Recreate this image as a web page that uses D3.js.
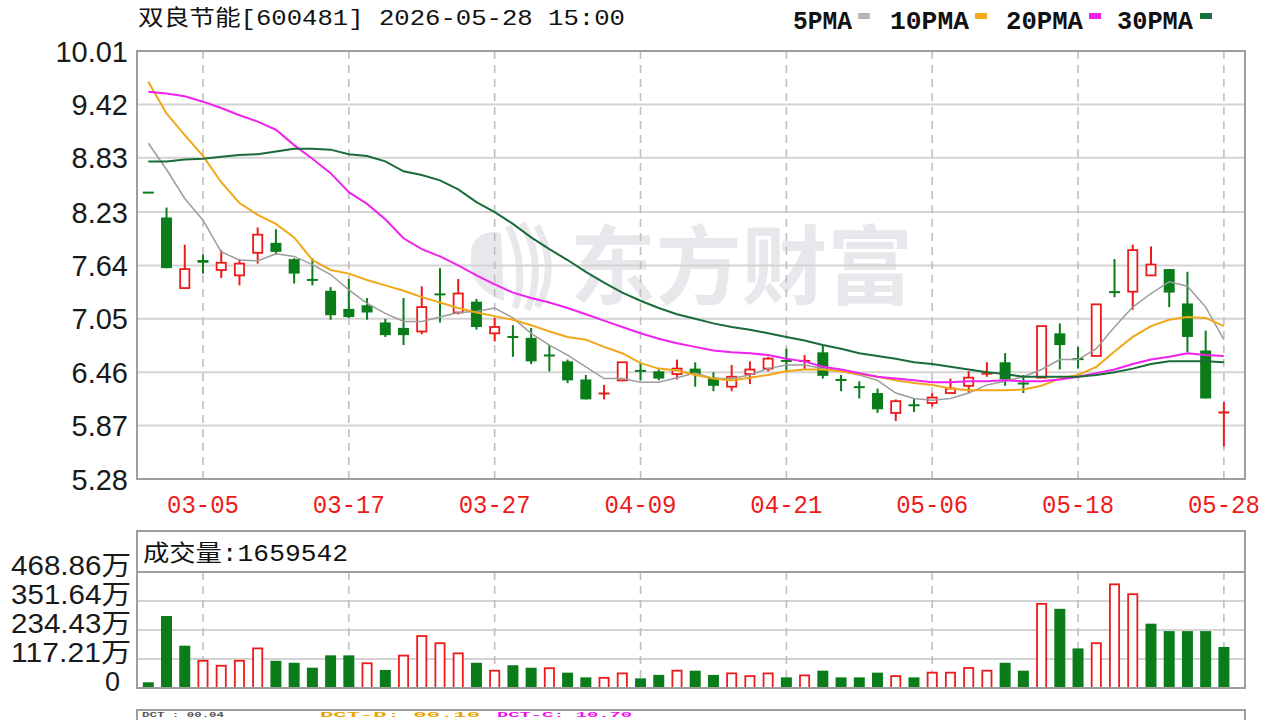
<!DOCTYPE html>
<html><head><meta charset="utf-8">
<script src="https://cdn.jsdelivr.net/npm/d3@7"></script>
<style>body{margin:0;background:#fff;}svg{display:block;}</style>
</head><body>
<svg id="c" width="1280" height="720"></svg>
<script>
// ---------- data ----------
const dates = ["03-02","03-03","03-04","03-05","03-06","03-09","03-10","03-11","03-12","03-13",
"03-16","03-17","03-18","03-19","03-20","03-23","03-24","03-25","03-26","03-27",
"03-30","03-31","04-01","04-02","04-03","04-07","04-08","04-09","04-10","04-13",
"04-14","04-15","04-16","04-17","04-20","04-21","04-22","04-23","04-24","04-27",
"04-28","04-29","04-30","05-06","05-07","05-08","05-11","05-12","05-13","05-14",
"05-15","05-18","05-19","05-20","05-21","05-22","05-25","05-26","05-27","05-28"];
const open = [8.45,8.17,7.39,7.70,7.59,7.53,7.78,7.89,7.71,7.49,
7.36,7.16,7.20,7.01,6.95,6.91,7.33,7.12,7.24,6.89,
6.86,6.84,6.65,6.58,6.38,6.22,6.37,6.48,6.47,6.44,
6.50,6.40,6.30,6.44,6.50,6.59,6.58,6.68,6.38,6.30,
6.23,6.01,6.10,6.12,6.23,6.31,6.44,6.57,6.34,6.40,
6.89,6.61,6.64,7.35,7.35,7.53,7.60,7.22,6.70,6.01];
const high = [8.45,8.28,7.87,7.76,7.81,7.71,8.06,8.04,7.72,7.72,
7.40,7.49,7.28,7.05,7.28,7.41,7.61,7.49,7.27,7.06,
6.98,6.95,6.76,6.60,6.43,6.32,6.57,6.56,6.49,6.60,
6.57,6.46,6.54,6.58,6.63,6.72,6.65,6.75,6.43,6.36,
6.28,6.16,6.17,6.23,6.39,6.47,6.57,6.67,6.43,6.97,
7.00,6.74,7.21,7.71,7.87,7.85,7.60,7.57,6.92,6.13];
const low = [8.44,7.61,7.39,7.55,7.50,7.42,7.66,7.76,7.44,7.42,
7.04,7.06,7.04,6.85,6.76,6.88,7.01,7.10,6.93,6.80,
6.63,6.55,6.47,6.34,6.16,6.16,6.36,6.37,6.37,6.38,
6.30,6.25,6.25,6.33,6.47,6.47,6.49,6.39,6.25,6.17,
6.01,5.92,6.02,6.08,6.23,6.23,6.41,6.31,6.23,6.40,
6.49,6.50,6.64,7.29,7.15,7.53,7.18,6.68,6.17,5.64];
const close = [8.44,7.61,7.60,7.67,7.67,7.66,7.98,7.79,7.55,7.47,
7.09,7.07,7.12,6.87,6.87,7.18,7.31,7.33,6.96,6.96,
6.84,6.58,6.64,6.37,6.16,6.23,6.57,6.47,6.39,6.50,
6.44,6.31,6.41,6.49,6.61,6.58,6.59,6.42,6.37,6.29,
6.05,6.14,6.09,6.18,6.28,6.40,6.45,6.38,6.33,6.97,
6.76,6.60,7.21,7.34,7.81,7.65,7.34,6.85,6.17,6.02];
// volume in 万 (10k shares)
const volume = [23,291,171,110,90,110,160,110,102,82,
132,132,100,73,131,210,181,140,102,70,
92,82,80,62,43,41,59,39,53,70,
70,53,59,48,59,43,51,70,43,43,
62,48,43,62,62,81,70,102,70,340,
320,160,181,419,379,260,230,230,230,165.9542];
const volDir = ["g","g","g","r","r","r","r","g","g","g",
"g","g","r","g","r","r","r","r","g","r",
"g","g","r","g","g","r","r","g","g","r",
"g","g","r","r","r","g","r","g","g","g",
"g","r","g","r","r","r","r","g","g","r",
"g","g","r","r","r","g","g","g","g","g"];
const ma5 = [8.99,8.70,8.38,8.14,7.79,7.70,7.69,7.77,7.74,7.65,
7.54,7.37,7.22,7.11,7.02,7.02,7.07,7.12,7.13,7.17,
7.06,6.89,6.76,6.65,6.52,6.39,6.39,6.35,6.35,6.40,
6.45,6.39,6.39,6.43,6.50,6.54,6.54,6.50,6.47,6.43,
6.37,6.23,6.17,6.15,6.17,6.23,6.32,6.36,6.41,6.49,
6.60,6.60,6.72,6.96,7.18,7.33,7.46,7.41,7.18,6.82];
const ma10 = [9.67,9.32,9.08,8.85,8.56,8.33,8.20,8.10,7.95,7.70,
7.59,7.55,7.48,7.42,7.36,7.29,7.23,7.17,7.12,7.08,
7.04,6.98,6.91,6.85,6.82,6.74,6.67,6.56,6.50,6.48,
6.43,6.39,6.37,6.40,6.43,6.47,6.49,6.49,6.47,6.44,
6.41,6.37,6.34,6.32,6.28,6.26,6.26,6.26,6.27,6.31,
6.39,6.43,6.52,6.69,6.85,6.97,7.04,7.07,7.06,6.97];
const ma20 = [9.56,9.54,9.51,9.45,9.38,9.30,9.23,9.14,8.97,8.82,
8.66,8.45,8.32,8.15,7.94,7.82,7.74,7.64,7.53,7.43,
7.34,7.28,7.23,7.17,7.10,7.03,6.96,6.89,6.83,6.78,
6.74,6.70,6.68,6.67,6.65,6.61,6.58,6.52,6.49,6.45,
6.41,6.39,6.37,6.35,6.35,6.36,6.36,6.37,6.36,6.36,
6.38,6.41,6.45,6.49,6.55,6.60,6.63,6.67,6.65,6.64];
const ma30 = [8.79,8.79,8.81,8.82,8.84,8.86,8.87,8.90,8.93,8.93,
8.92,8.87,8.85,8.79,8.68,8.64,8.58,8.48,8.34,8.23,
8.10,7.95,7.82,7.70,7.57,7.45,7.34,7.25,7.17,7.10,
7.05,7.00,6.96,6.93,6.89,6.85,6.81,6.76,6.72,6.67,
6.64,6.61,6.57,6.55,6.52,6.49,6.46,6.44,6.41,6.41,
6.41,6.41,6.43,6.46,6.50,6.55,6.58,6.58,6.58,6.57];
const priceTicks = [10.01,9.42,8.83,8.23,7.64,7.05,6.46,5.87,5.28];
const volTicks = [468.86,351.64,234.43,117.21,0];
const dateTicks = ["03-05","03-17","03-27","04-09","04-21","05-06","05-18","05-28"];
const maNames = ["5PMA","10PMA","20PMA","30PMA"];
const titleName = "双良节能";
const titleRest = "[600481] 2026-05-28 15:00";
const volTitle = "成交量:1659542";
const dctLabels = ["DCT : 00.04","DCT-D: 00.10","DCT-C: 10.70"];

// ---------- layout / style ----------
const RED = "#ee1a1a", GREEN = "#0a7d1a";
const maColors = ["#9c9c9c","#f0a818","#f022f0","#1b6b3a"];
const maLegendColors = ["#b4b4b4","#f0a820","#f020f0","#1a6e3a"];
const maWidths = [1.5,2,2,2];
const box = {l:137, r:1245, t:51, b:479};
const vb = {t:531, h:572, b:688};
const bw = 11;

const svg = d3.select("#c");
const x = d3.scalePoint().domain(dates).range([148.3, 1223.9]);
const y = d3.scaleLinear().domain([priceTicks[priceTicks.length-1], priceTicks[0]]).range([box.b, box.t]);
const yv = d3.scaleLinear().domain([0, volTicks[0]]).range([vb.b, vb.h]);

// ---------- watermark ----------
const wm = svg.append("g").attr("fill","#e8e8ec");
wm.append("text").attr("x",570).attr("y",298).attr("font-family","'Noto Sans CJK SC'")
  .attr("font-weight",700).attr("font-size",86).attr("textLength",343)
  .attr("lengthAdjust","spacingAndGlyphs").text("东方财富");
wm.append("path").attr("d","M471 252 C472 236 488 229 501 233 L504 301 C490 296 474 286 471 268 Z");
["M508 226 C521 250 523 285 515 308","M522 223 C539 250 539 285 527 310","M537 226 C553 255 551 285 537 307"]
  .forEach(p=>wm.append("path").attr("d",p).attr("fill","none").attr("stroke","#e8e8ec").attr("stroke-width",7));

// ---------- title & legend ----------
const tt = svg.append("text").attr("x",138).attr("y",25).attr("font-size",22).attr("fill","#111")
  .attr("textLength",487).attr("lengthAdjust","spacingAndGlyphs");
tt.append("tspan").attr("font-family","'Noto Sans CJK SC'").text(titleName);
tt.append("tspan").attr("font-family","'Liberation Mono'").text(titleRest);

const legX = [793,890,1006,1117], legW = [59,79,77,76], legSq = [858,975,1089,1200];
maNames.forEach((n,i)=>{
  svg.append("text").attr("x",legX[i]).attr("y",29).attr("font-family","'Liberation Mono'")
    .attr("font-size",25).attr("font-weight",700).attr("fill","#111")
    .attr("textLength",legW[i]).attr("lengthAdjust","spacingAndGlyphs").text(n);
  svg.append("rect").attr("x",legSq[i]).attr("y",13).attr("width",12).attr("height",6).attr("fill",maLegendColors[i]);
});

// ---------- main grid ----------
const g = svg.append("g");
g.selectAll("line.h").data(priceTicks.slice(1,-1)).join("line")
  .attr("x1",box.l).attr("x2",box.r).attr("y1",d=>y(d)).attr("y2",d=>y(d))
  .attr("stroke","#d3d3d3").attr("stroke-width",2);
g.selectAll("line.v").data(dateTicks).join("line")
  .attr("x1",d=>x(d)).attr("x2",d=>x(d)).attr("y1",box.t).attr("y2",box.b)
  .attr("stroke","#bfbfbf").attr("stroke-width",1.6).attr("stroke-dasharray","8,6");

// y labels
svg.selectAll("text.py").data(priceTicks).join("text").attr("class","py")
  .attr("x",128).attr("y",d=>y(d)+10.5).attr("text-anchor","end")
  .attr("font-family","'Liberation Sans'").attr("font-size",29).attr("fill","#1a1a1a")
  .text(d=>d.toFixed(2));
// x labels
svg.selectAll("text.px").data(dateTicks).join("text").attr("class","px")
  .attr("x",d=>x(d)).attr("y",513).attr("text-anchor","middle")
  .attr("font-family","'Liberation Mono'").attr("font-size",26).attr("fill",RED)
  .attr("textLength",72).attr("lengthAdjust","spacingAndGlyphs").text(d=>d);

// ---------- candles ----------
const cd = dates.map((d,i)=>({d, o:open[i], h:high[i], l:low[i], c:close[i]}));
const gc = svg.append("g");
gc.selectAll("line.w").data(cd).join("line")
  .attr("x1",d=>x(d.d)).attr("x2",d=>x(d.d)).attr("y1",d=>y(d.h)).attr("y2",d=>y(d.l))
  .attr("stroke",d=>d.c>d.o?RED:GREEN).attr("stroke-width",2);
gc.selectAll("rect.b").data(cd).join("rect")
  .each(function(d){
    const up = d.c>d.o, col = up?RED:GREEN;
    const yt = y(Math.max(d.o,d.c)), yb = y(Math.min(d.o,d.c)), bh = yb-yt;
    const s = d3.select(this);
    if (bh < 2.5) {
      s.attr("x",x(d.d)-bw/2).attr("y",(yt+yb)/2-1).attr("width",bw).attr("height",2).attr("fill",col);
    } else if (up) {
      s.attr("x",x(d.d)-bw/2+0.9).attr("y",yt).attr("width",bw-1.8).attr("height",bh)
       .attr("fill","#fff").attr("stroke",col).attr("stroke-width",1.8);
    } else {
      s.attr("x",x(d.d)-bw/2).attr("y",yt).attr("width",bw).attr("height",bh).attr("fill",col);
    }
  });

// ---------- moving averages ----------
const line = d3.line().x((d,i)=>x(dates[i])).y(d=>y(d));
[ma5,ma10,ma20,ma30].forEach((m,k)=>{
  svg.append("path").attr("d",line(m)).attr("fill","none")
    .attr("stroke",maColors[k]).attr("stroke-width",maWidths[k]);
});

// main frame
svg.append("rect").attr("x",box.l).attr("y",box.t).attr("width",box.r-box.l).attr("height",box.b-box.t)
  .attr("fill","none").attr("stroke","#9e9e9e").attr("stroke-width",2);

// ---------- volume panel ----------
const gv = svg.append("g");
gv.selectAll("line.h").data(volTicks.slice(1,-1)).join("line")
  .attr("x1",box.l).attr("x2",box.r).attr("y1",d=>yv(d)).attr("y2",d=>yv(d))
  .attr("stroke","#d3d3d3").attr("stroke-width",2);
gv.selectAll("line.v").data(dateTicks).join("line")
  .attr("x1",d=>x(d)).attr("x2",d=>x(d)).attr("y1",vb.h).attr("y2",vb.b)
  .attr("stroke","#bfbfbf").attr("stroke-width",1.6).attr("stroke-dasharray","8,6");
const vd = dates.map((d,i)=>({d, v:volume[i], r:volDir[i]==="r"}));
gv.selectAll("rect.vb").data(vd).join("rect")
  .attr("x",d=>x(d.d)-bw/2+(d.r?0.9:0)).attr("width",d=>d.r?bw-1.8:bw)
  .attr("y",d=>yv(d.v)).attr("height",d=>vb.b-yv(d.v))
  .attr("fill",d=>d.r?"#fff":GREEN).attr("stroke",d=>d.r?RED:"none").attr("stroke-width",1.8);
svg.append("rect").attr("x",box.l).attr("y",vb.t).attr("width",box.r-box.l).attr("height",vb.b-vb.t)
  .attr("fill","none").attr("stroke","#9e9e9e").attr("stroke-width",2);
svg.append("line").attr("x1",box.l).attr("x2",box.r).attr("y1",vb.h).attr("y2",vb.h)
  .attr("stroke","#9e9e9e").attr("stroke-width",2);
const vt = svg.append("text").attr("x",143).attr("y",561).attr("font-size",23).attr("fill","#111")
  .attr("textLength",205).attr("lengthAdjust","spacingAndGlyphs");
vt.append("tspan").attr("font-family","'Noto Sans CJK SC'").text(volTitle.slice(0,3));
vt.append("tspan").attr("font-family","'Liberation Mono'").text(volTitle.slice(3));
svg.selectAll("text.vy").data(volTicks).join("text").attr("class","vy")
  .attr("x",d=>d===0?120:131).attr("y",d=>yv(d)+3).attr("text-anchor","end")
  .attr("font-family","'Liberation Sans','Noto Sans CJK SC'").attr("font-size",27).attr("fill","#1a1a1a")
  .each(function(d){ if(d!==0) d3.select(this).attr("textLength",120).attr("lengthAdjust","spacingAndGlyphs"); })
  .text(d=>d===0?"0":d.toFixed(2)+"万");

// ---------- bottom indicator strip (mostly below the window) ----------
svg.append("path").attr("d",`M${box.l} 724 V710 H${box.r} V724`).attr("fill","none")
  .attr("stroke","#9e9e9e").attr("stroke-width",2);
const dctX = [142,320,497], dctW = [82,160,135], dctC = ["#555","#eaa400","#ee10ee"];
dctLabels.forEach((t,i)=>svg.append("text").attr("x",dctX[i]).attr("y",717.2).attr("font-family","'Liberation Mono'")
  .attr("font-size",8).attr("font-weight",700).attr("fill",dctC[i]).attr("textLength",dctW[i])
  .attr("lengthAdjust","spacingAndGlyphs").text(t));
</script>
</body></html>
